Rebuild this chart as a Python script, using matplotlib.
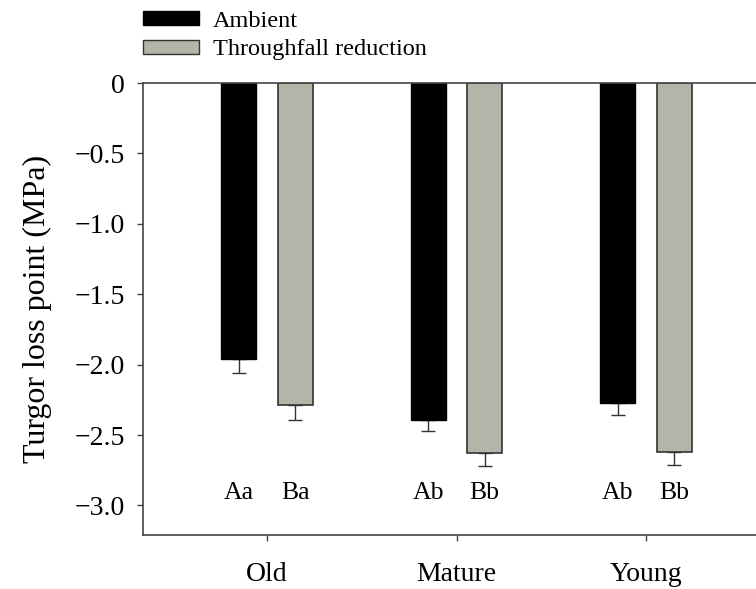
import matplotlib
matplotlib.use("Agg")
import matplotlib.pyplot as plt
import numpy as np
from matplotlib.patches import Patch

plt.rcParams['font.family'] = ['Liberation Serif', 'DejaVu Serif']

# Data
categories = ["Old", "Mature", "Young"]
series_names = ["Ambient", "Throughfall reduction"]
ambient = [-1.96, -2.39, -2.27]
ambient_se = [0.10, 0.08, 0.09]
reduction = [-2.29, -2.63, -2.62]
reduction_se = [0.10, 0.09, 0.09]
ambient_letters = ["Aa", "Ab", "Ab"]
reduction_letters = ["Ba", "Bb", "Bb"]
letter_y = -2.91
yticks = [0, -0.5, -1.0, -1.5, -2.0, -2.5, -3.0]
ytick_labels = ["0", "\u22120.5", "\u22121.0", "\u22121.5", "\u22122.0", "\u22122.5", "\u22123.0"]

c_amb = "#000000"
c_red = "#b4b4a8"
edge = "#333333"

W, H = 756, 589
fig = plt.figure(figsize=(W / 100, H / 100), dpi=100)
ax = fig.add_axes([143 / W, 1 - 535 / H, 1 - 143 / W, (535 - 83) / H])

x = np.arange(len(categories))
off = 0.149
w = 0.185

ax.bar(x - off, ambient, width=w, color=c_amb, edgecolor="#000000", linewidth=1.0, zorder=2)
ax.bar(x + off, reduction, width=w, color=c_red, edgecolor=edge, linewidth=1.2, zorder=2)

err_kw = dict(fmt="none", ecolor=edge, elinewidth=1.0, capsize=5, capthick=1.0, zorder=1)
ax.errorbar(x - off, ambient, yerr=[ambient_se, np.zeros(3)], **err_kw)
ax.errorbar(x + off, reduction, yerr=[reduction_se, np.zeros(3)], **err_kw)

for i in range(len(categories)):
    ax.text(x[i] - off, letter_y, ambient_letters[i], ha="center", va="center", fontsize=18.5)
    ax.text(x[i] + off, letter_y, reduction_letters[i], ha="center", va="center", fontsize=18.5)

ax.set_xlim(-0.654, 2.58)
ax.set_ylim(-3.21, 0)
ax.set_yticks(yticks)
ax.set_yticklabels(ytick_labels, fontsize=20)
ax.set_xticks(x)
ax.set_xticklabels(categories, fontsize=20)
ax.tick_params(axis="both", direction="out", length=4.5, width=1.0, color="#444444")
ax.tick_params(axis="y", pad=8.5)
ax.tick_params(axis="x", pad=15)

for s in ["left", "top", "bottom"]:
    ax.spines[s].set_color("#444444")
    ax.spines[s].set_linewidth(1.2)
ax.spines["right"].set_visible(False)

ax.set_ylabel("Turgor loss point (MPa)", fontsize=23)
ax.yaxis.set_label_coords((52 - 143) / (W - 143), 0.5)

handles = [Patch(facecolor=c_amb, edgecolor="#000000", linewidth=1.0),
           Patch(facecolor=c_red, edgecolor=edge, linewidth=1.0)]
fig.legend(handles, series_names, loc="upper left", bbox_to_anchor=(143 / W, 1 - 11 / H),
           frameon=False, fontsize=17.5, handlelength=2.3, handleheight=0.5,
           handletextpad=0.58, labelspacing=0.3, borderpad=0.0, borderaxespad=0.0)

fig.savefig("out.png", dpi=100)
